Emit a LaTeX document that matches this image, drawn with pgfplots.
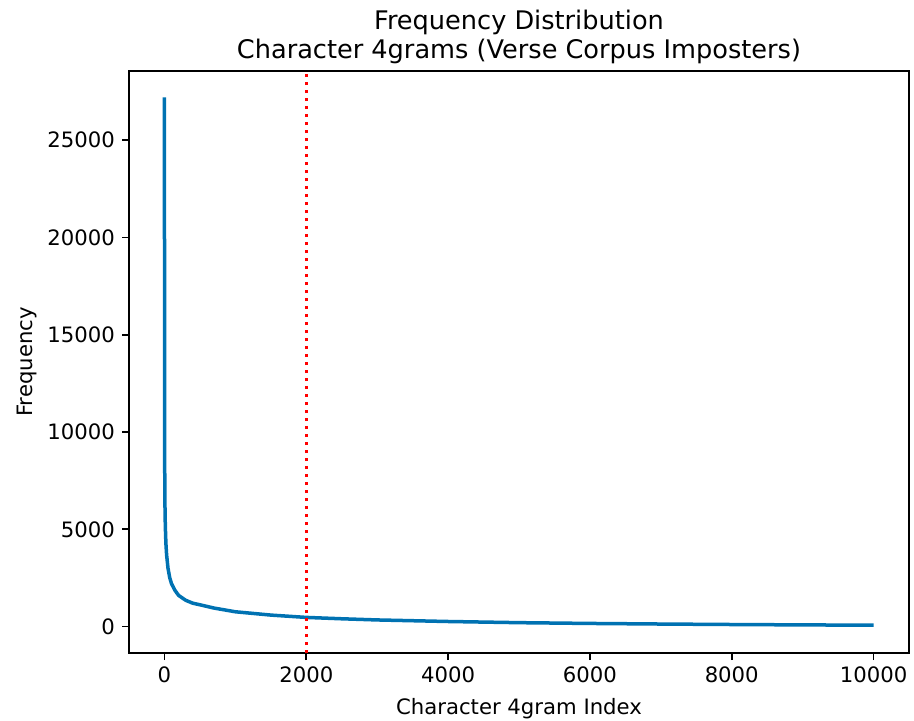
\documentclass[border=0pt]{standalone}
\usepackage{fontspec}
\setmainfont{DejaVu Sans}
\usepackage{pgfplots}
\pgfplotsset{compat=1.18}
\definecolor{curveblue}{RGB}{0,114,178}
\begin{document}
\begin{tikzpicture}[x=1pt,y=1pt]
\useasboundingbox (0,0) rectangle (457,360);
\begin{axis}[
  at={(64.5pt,33.5pt)}, anchor=south west,
  scale only axis, width=390pt, height=291pt,
  xmin=-500, xmax=10500, ymin=-1360, ymax=28560,
  xtick={0,2000,4000,6000,8000,10000},
  ytick={0,5000,10000,15000,20000,25000},
  scaled ticks=false,
  /pgf/number format/.cd, set thousands separator={}, assume math mode=true,
  /pgfplots/.cd,
  tick align=outside, major tick length=3.5pt,
  tick style={line width=0.8pt, black},
  xtick pos=bottom, ytick pos=left,
  axis line style={line width=0.8pt},
  ticklabel style={font=\fontsize{10.6}{12.5}\selectfont},
  xlabel={Character 4gram Index}, ylabel={Frequency},
  label style={font=\fontsize{10.6}{12.5}\selectfont},
  xlabel style={yshift=-1pt},
  ylabel style={yshift=-1.5pt},
  title={Frequency Distribution\\Character 4grams (Verse Corpus Imposters)},
  title style={font=\fontsize{12.8}{14.8}\selectfont, align=center, yshift=-6pt},
]
\addplot[curveblue, line width=1.75pt] coordinates {
(0,27200) (1,15000) (2,11000) (3,9000) (4,8000) (5,7000) (8,6000) (12,5200)
(20,4300) (30,3700) (50,3000) (75,2500) (100,2200) (150,1850) (200,1600)
(300,1350) (400,1200) (500,1120) (700,950) (1000,760) (1500,590) (2000,470)
(2500,400) (3000,340) (4000,260) (5000,200) (6000,160) (7000,130) (8000,105)
(9000,85) (10000,70)
};
\addplot[red, line width=1.5pt, dash pattern=on 1.5pt off 2.5pt] coordinates {(2000,-1360) (2000,28560)};
\end{axis}
\end{tikzpicture}
\end{document}
